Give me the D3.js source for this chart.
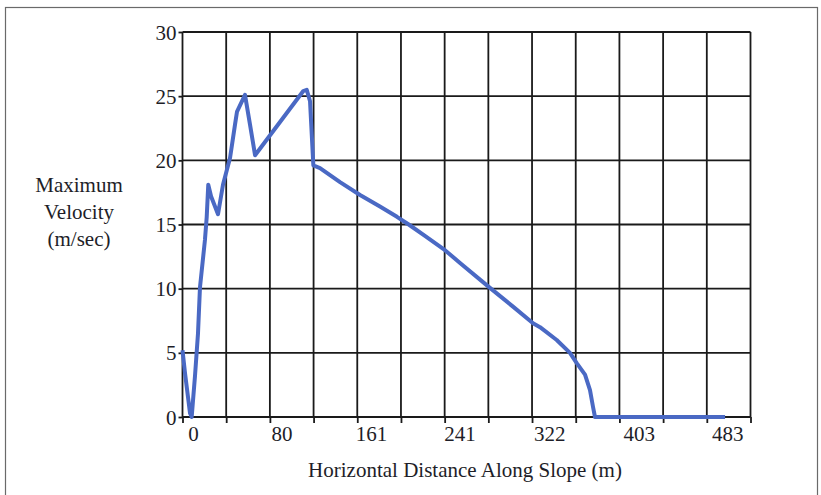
<!DOCTYPE html>
<html>
<head>
<meta charset="utf-8">
<script src="https://cdn.jsdelivr.net/npm/d3@7"></script>
<style>
  body { margin: 0; background: #fff; }
  text { font-family: "Liberation Serif", "DejaVu Serif", serif; fill: #1e1e28; }
</style>
</head>
<body>
<div id="chart"></div>
<script>
// distance along slope (m) and max velocity (m/sec)
const distance = [-9.5, -7.2, -2.7, -1.2, 1.8, 4.5, 6.3, 10.8, 12.4, 13.8, 16.3, 22.6, 27.1, 33.5, 38, 39.8, 47, 51.5, 56.1,
    99.7, 102.8, 105.8, 108.8, 114.8, 132.9, 151, 169, 184.4, 195, 210, 227.8, 241.4, 267.9, 289.3, 307.4, 313.7,
    328.8, 340.8, 346.9, 354.4, 358.9, 361.6, 363.4, 481];
const velocity = [5.2, 3.4, 0.3, 0, 3.2, 6.5, 10.1, 13.8, 15.6, 18.1, 17.2, 15.8, 18.1, 20.2, 22.8, 23.8, 25.1, 22.8, 20.4,
    25.4, 25.5, 24.6, 19.6, 19.4, 18.3, 17.3, 16.4, 15.6, 15.0, 14.1, 13.0, 12.0, 10.1, 8.6, 7.3, 7.0,
    6.0, 5.0, 4.2, 3.3, 2.1, 0.8, 0, 0];
const xLabels = [0, 80, 161, 241, 322, 403, 483];
const yTicks = [0, 5, 10, 15, 20, 25, 30];
const xDomain = [-9.5, 504];
const gridColumns = 13;
const yTitle = ["Maximum", "Velocity", "(m/sec)"];
const xTitle = "Horizontal Distance Along Slope (m)";

const W = 821, H = 495;
const margin = { top: 32, right: 70.5, bottom: 78, left: 182.5 };
const width = W - margin.left - margin.right;
const height = H - margin.top - margin.bottom;

const svg = d3.select("#chart").append("svg")
    .attr("width", W)
    .attr("height", H);

// outer frame of the scanned figure
svg.append("rect")
    .attr("x", 5.5).attr("y", 7.5)
    .attr("width", 812).attr("height", 500)
    .attr("fill", "none")
    .attr("stroke", "#6a6a6a")
    .attr("stroke-width", 1.2);

const g = svg.append("g").attr("transform", `translate(${margin.left},${margin.top})`);

const x = d3.scaleLinear().domain(xDomain).range([0, width]);
const y = d3.scaleLinear().domain([0, 30]).range([height, 0]);

// vertical grid lines split the plot into equal columns
const gridVals = d3.range(gridColumns + 1).map(i => xDomain[0] + i * (xDomain[1] - xDomain[0]) / gridColumns);

g.append("g").selectAll("line")
    .data(gridVals)
    .join("line")
    .attr("x1", d => x(d)).attr("x2", d => x(d))
    .attr("y1", 0).attr("y2", height)
    .attr("stroke", "#1a1a1a")
    .attr("stroke-width", 1.8);

g.append("g").selectAll("line")
    .data(yTicks)
    .join("line")
    .attr("x1", 0).attr("x2", width)
    .attr("y1", d => y(d)).attr("y2", d => y(d))
    .attr("stroke", "#1a1a1a")
    .attr("stroke-width", 1.8);

// tick marks
const xTickAxis = g.append("g")
    .attr("transform", `translate(0,${height})`)
    .call(d3.axisBottom(x).tickValues(gridVals).tickSize(6).tickFormat(""));
xTickAxis.select(".domain").remove();
xTickAxis.selectAll("line").attr("stroke", "#1a1a1a").attr("stroke-width", 1.8);

const yAxis = g.append("g")
    .call(d3.axisLeft(y).tickValues(yTicks).tickSize(4).tickPadding(2));
yAxis.select(".domain").remove();
yAxis.selectAll("line").attr("stroke", "#1a1a1a").attr("stroke-width", 1.8);
yAxis.selectAll("text")
    .style("font-size", "21px")
    .attr("fill", "#1e1e28")
    .attr("dy", "0.34em");

// x labels
const xAxis = g.append("g")
    .attr("transform", `translate(0,${height})`)
    .call(d3.axisBottom(x).tickValues(xLabels).tickSize(0).tickPadding(9));
xAxis.select(".domain").remove();
xAxis.selectAll("text")
    .style("font-size", "21px")
    .attr("fill", "#1e1e28");

// data line
const pts = distance.map((d, i) => ({ x: d, v: velocity[i] }));
g.append("path")
    .datum(pts)
    .attr("fill", "none")
    .attr("stroke", "#4a69c4")
    .attr("stroke-width", 4)
    .attr("stroke-linejoin", "round")
    .attr("d", d3.line().x(d => x(d.x)).y(d => y(d.v)));

// axis titles
svg.append("text")
    .attr("x", 465).attr("y", 477)
    .attr("text-anchor", "middle")
    .style("font-size", "21px")
    .text(xTitle);

svg.append("text")
    .attr("text-anchor", "middle")
    .style("font-size", "21px")
    .selectAll("tspan")
    .data(yTitle)
    .join("tspan")
    .attr("x", 79)
    .attr("y", (d, i) => 192 + i * 27)
    .text(d => d);
</script>
</body>
</html>
